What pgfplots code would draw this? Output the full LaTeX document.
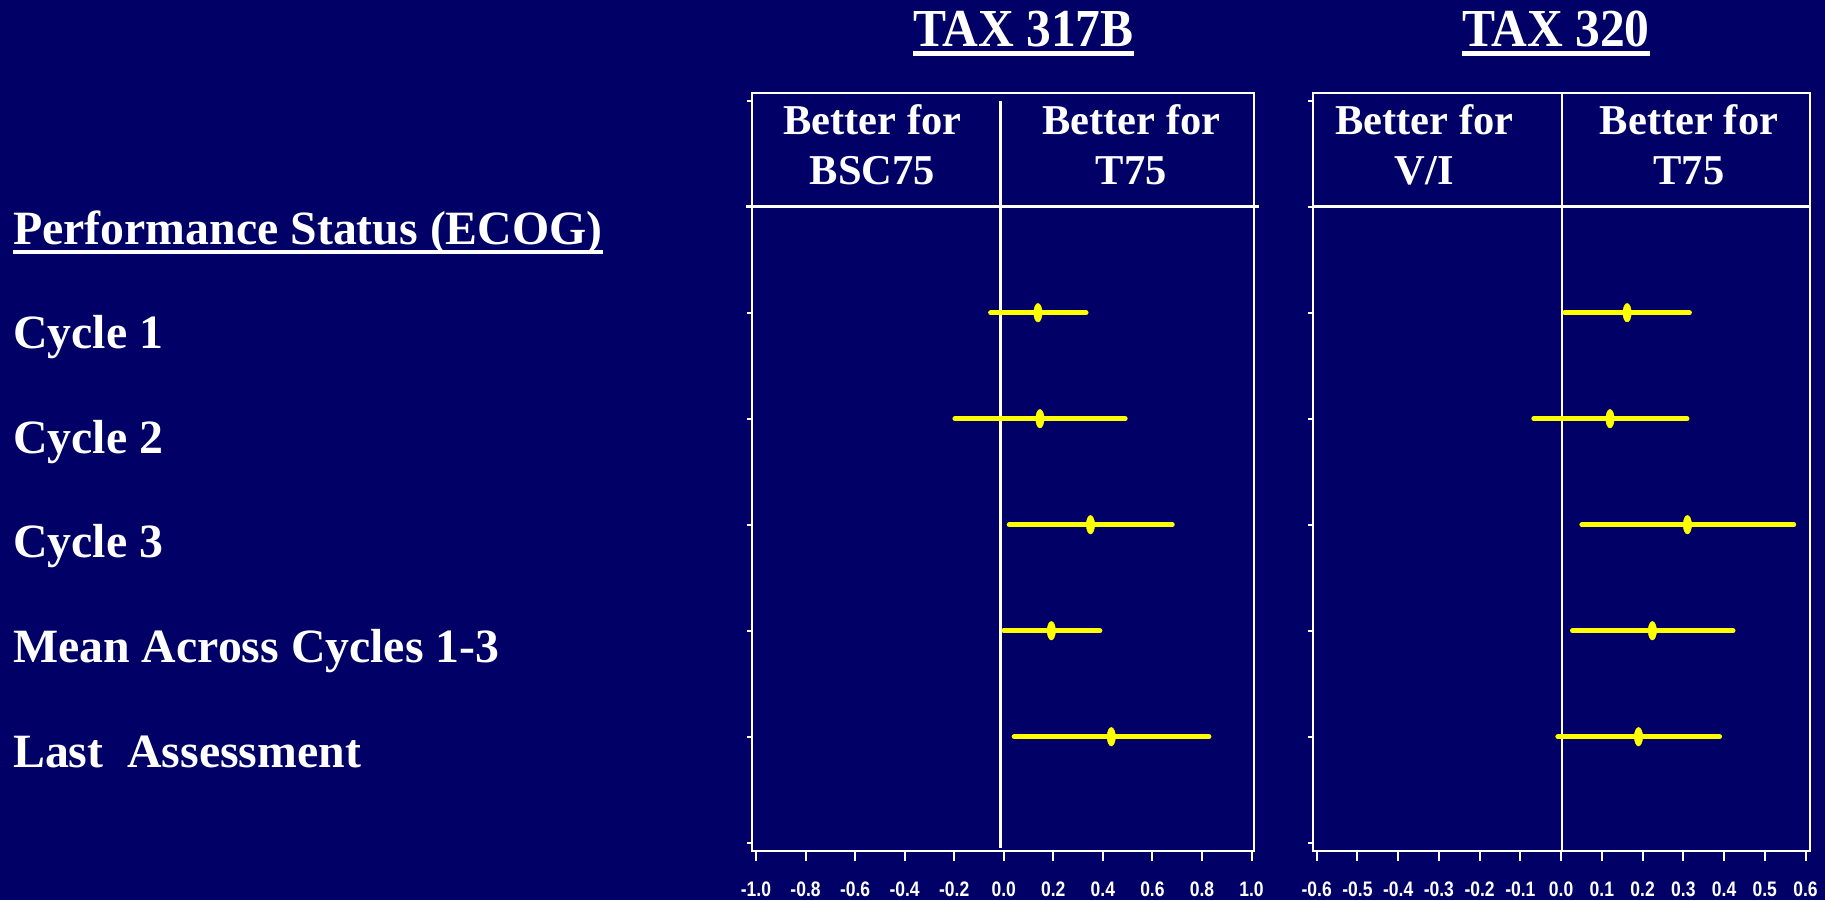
\documentclass[border=0pt]{standalone}
\usepackage{fontspec}
\setmainfont{Liberation Serif}
\newfontfamily\tickfont{Liberation Sans}
\usepackage{pgfplots}
\pgfplotsset{compat=1.18}
\usepackage{pgfplotstable}
\usetikzlibrary{calc}

\definecolor{slidebg}{RGB}{0,0,102}
\definecolor{ciyellow}{RGB}{255,255,0}

% Treatment differences with 95% confidence limits (row 5 = Cycle 1 ... row 1 = Last assessment)
\pgfplotstableread{
row lo pt hi
5 -0.053 0.138 0.332
4 -0.197 0.146 0.490
3 0.022 0.350 0.680
2 0.000 0.192 0.388
1 0.042 0.434 0.828
}\taxB

\pgfplotstableread{
row lo pt hi
5 0.009 0.162 0.315
4 -0.067 0.120 0.309
3 0.051 0.310 0.571
2 0.028 0.224 0.422
1 -0.008 0.190 0.389
}\taxC

\newcommand{\labfont}{\bfseries\fontsize{47.8pt}{57pt}\selectfont}
\newcommand{\headfont}{\bfseries\fontsize{42.5pt}{50pt}\selectfont}
% narrow, tall tick numbers
\newcommand{\tl}[1]{\scalebox{1}[1.2]{#1}}

\pgfplotsset{
  panel/.style={
    scale only axis,
    height=758pt,
    ymin=-0.078, ymax=7.073,
    axis line style={white, line width=2.2pt},
    tick align=outside,
    xtick pos=left,
    ytick pos=left,
    ytick={0,1,...,7},
    yticklabels={},
    tick style={white, line width=2pt},
    xtick style={/pgfplots/major tick length=10pt},
    ytick style={/pgfplots/major tick length=5pt},
    xticklabel style={font=\tickfont\bfseries\fontsize{17.5pt}{20pt}\selectfont,
      text=white, anchor=base, inner sep=0pt, yshift=-41pt},
    clip=false,
  },
  ci/.style={
    ciyellow, only marks, mark=*, mark size=9.3pt,
    mark options={xscale=0.45, fill=ciyellow, draw=none, solid},
    error bars/.cd, x dir=both, x explicit, error mark=none,
    error bar style={line width=5pt, line cap=round, ciyellow},
  },
}

\begin{document}
\begin{tikzpicture}[x=1pt, y=1pt]
\fill[slidebg] (0,0) rectangle (1825,900);

% panel titles
\node[anchor=base west, inner sep=0pt, text=white] (t1) at (913,853.3)
  {\scalebox{1}[1.08]{\bfseries\fontsize{49.5pt}{55pt}\selectfont TAX 317B}};
\node[anchor=base west, inner sep=0pt, text=white] (t2) at (1462,853.3)
  {\scalebox{1}[1.08]{\bfseries\fontsize{49.5pt}{55pt}\selectfont TAX 320}};
\fill[white] ($(t1.base west)+(0,-4.8)$) rectangle ($(t1.base east)+(0,-9.8)$);
\fill[white] ($(t2.base west)+(0,-4.8)$) rectangle ($(t2.base east)+(0,-9.8)$);

% row labels
\node[anchor=base west, inner sep=0pt, text=white] (perf) at (13,655)
  {\labfont Performance Status (ECOG)};
\fill[white] ($(perf.base west)+(0,-4.8)$) rectangle ($(perf.base east)+(0,-9.3)$);
\node[anchor=base west, inner sep=0pt, text=white] at (13,551) {\labfont Cycle 1};
\node[anchor=base west, inner sep=0pt, text=white] at (13,446.5) {\labfont Cycle 2};
\node[anchor=base west, inner sep=0pt, text=white] at (13,342) {\labfont Cycle 3};
\node[anchor=base west, inner sep=0pt, text=white] at (13,237.5) {\labfont Mean Across Cycles 1-3};
\node[anchor=base west, inner sep=0pt, text=white] at (13,133) {\labfont Last\ \ Assessment};

% TAX 317B panel
\begin{axis}[panel, width=502pt, at={(752pt,49pt)}, anchor=south west,
  xmin=-1.016, xmax=1.010,
  xtick={-1,-0.8,-0.6,-0.4,-0.2,0,0.2,0.4,0.6,0.8,1},
  xticklabels={\tl{-1.0},\tl{-0.8},\tl{-0.6},\tl{-0.4},\tl{-0.2},\tl{0.0},
    \tl{0.2},\tl{0.4},\tl{0.6},\tl{0.8},\tl{1.0}}]
  \draw[white, line width=2.5pt] (axis cs:-1.04,6) -- (axis cs:1.03,6);
  \draw[white, line width=2.5pt] (axis cs:-0.013,7) -- (axis cs:-0.013,-0.05);
  \node[anchor=base, text=white, inner sep=0pt] at (axis cs:-0.53,6.686) {\headfont Better for};
  \node[anchor=base, text=white, inner sep=0pt] at (axis cs:-0.53,6.214) {\headfont BSC75};
  \node[anchor=base, text=white, inner sep=0pt] at (axis cs:0.515,6.686) {\headfont Better for};
  \node[anchor=base, text=white, inner sep=0pt] at (axis cs:0.515,6.214) {\headfont T75};
  \addplot[ci] table[x=pt, y=row,
    x error plus expr=\thisrow{hi}-\thisrow{pt},
    x error minus expr=\thisrow{pt}-\thisrow{lo}] {\taxB};
\end{axis}

% TAX 320 panel
\begin{axis}[panel, width=497pt, at={(1313pt,49pt)}, anchor=south west,
  xmin=-0.609, xmax=0.611,
  xtick={-0.6,-0.5,-0.4,-0.3,-0.2,-0.1,0,0.1,0.2,0.3,0.4,0.5,0.6},
  xticklabels={\tl{-0.6},\tl{-0.5},\tl{-0.4},\tl{-0.3},\tl{-0.2},\tl{-0.1},\tl{0.0},
    \tl{0.1},\tl{0.2},\tl{0.3},\tl{0.4},\tl{0.5},\tl{0.6}}]
  \draw[white, line width=2.5pt] (axis cs:-0.609,6) -- (axis cs:0.611,6);
  \draw[white, line width=2.5pt] (axis cs:0.002,7.073) -- (axis cs:0.002,-0.078);
  \node[anchor=base, text=white, inner sep=0pt] at (axis cs:-0.336,6.686) {\headfont Better for};
  \node[anchor=base, text=white, inner sep=0pt] at (axis cs:-0.336,6.214) {\headfont V/I};
  \node[anchor=base, text=white, inner sep=0pt] at (axis cs:0.314,6.686) {\headfont Better for};
  \node[anchor=base, text=white, inner sep=0pt] at (axis cs:0.314,6.214) {\headfont T75};
  \addplot[ci] table[x=pt, y=row,
    x error plus expr=\thisrow{hi}-\thisrow{pt},
    x error minus expr=\thisrow{pt}-\thisrow{lo}] {\taxC};
\end{axis}
\end{tikzpicture}
\end{document}
